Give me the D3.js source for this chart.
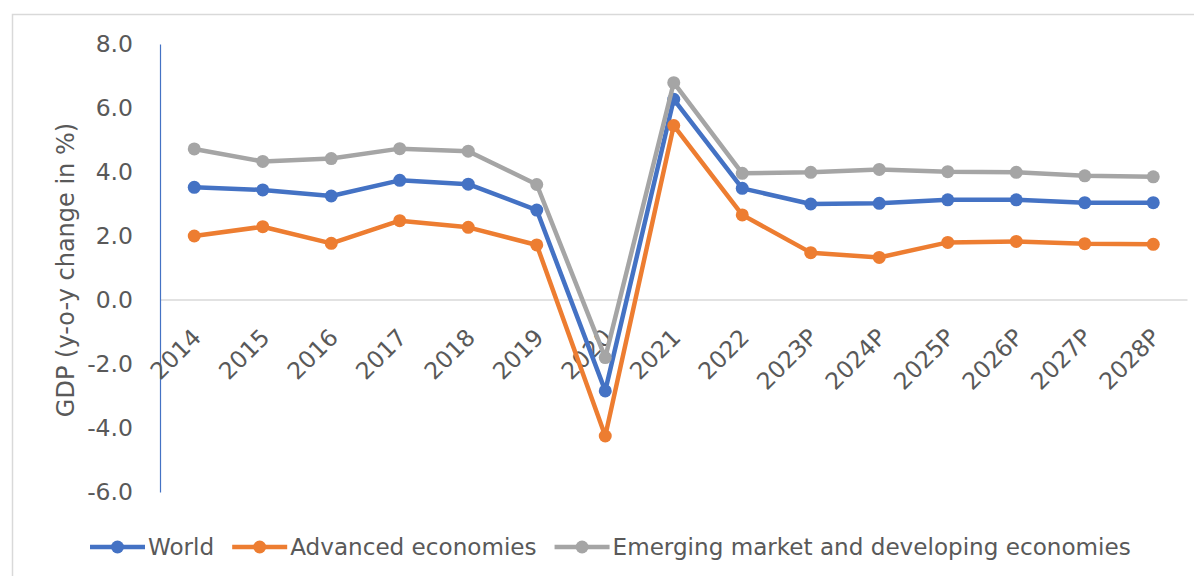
<!DOCTYPE html>
<html>
<head>
<meta charset="utf-8">
<script src="https://cdn.jsdelivr.net/npm/d3@7"></script>
<style>
  html, body { margin: 0; padding: 0; background: #fff; }
  svg { display: block; }
  text { font-family: "DejaVu Sans", sans-serif; fill: #595959; }
</style>
</head>
<body>
<svg id="chart" width="1194" height="576"></svg>
<script>
const categories = ["2014","2015","2016","2017","2018","2019","2020","2021","2022","2023P","2024P","2025P","2026P","2027P","2028P"];
const world    = [3.52, 3.44, 3.25, 3.74, 3.62, 2.81, -2.84, 6.27, 3.49, 3.00, 3.02, 3.13, 3.13, 3.04, 3.04];
const advanced = [2.00, 2.29, 1.77, 2.48, 2.27, 1.72, -4.25, 5.45, 2.66, 1.48, 1.33, 1.80, 1.83, 1.76, 1.74];
const emerging = [4.72, 4.33, 4.42, 4.73, 4.65, 3.61, -1.80, 6.79, 3.96, 3.99, 4.08, 4.01, 3.99, 3.88, 3.85];
const seriesNames = ["World", "Advanced economies", "Emerging market and developing economies"];
const seriesColors = ["#4472C4", "#ED7D31", "#A5A5A5"];
const yTicks = [-6, -4, -2, 0, 2, 4, 6, 8];
const yTitle = "GDP (y-o-y change in %)";

const series = [world, advanced, emerging].map((vals, i) => ({
  name: seriesNames[i], color: seriesColors[i],
  values: vals.map((v, j) => ({ cat: categories[j], v }))
}));

const svg = d3.select("#chart");
const pLeft = 160, pRight = 1187.5, pTop = 44, pBottom = 492;
const fs = "23.5px";

// chart border
svg.append("rect").attr("x", 12.5).attr("y", 14.5).attr("width", 1200).attr("height", 600)
  .attr("fill", "none").attr("stroke", "#d9d9d9").attr("stroke-width", 1.5);

const x = d3.scalePoint().domain(categories).range([pLeft, pRight]).padding(0.5);
const y = d3.scaleLinear().domain([-6, 8]).range([pBottom, pTop]);

// zero gridline
svg.append("line").attr("x1", pLeft).attr("x2", pRight).attr("y1", y(0)).attr("y2", y(0))
  .attr("stroke", "#d9d9d9").attr("stroke-width", 1.5);

// y axis
const yAxis = svg.append("g").attr("transform", `translate(${pLeft},0)`)
  .call(d3.axisLeft(y).tickValues(yTicks).tickFormat(d => d.toFixed(1)).tickSize(0).tickPadding(27));
yAxis.select(".domain").attr("stroke", "#4472C4").attr("stroke-width", 1.2);
yAxis.selectAll("text").style("font-size", fs).attr("fill", "#595959")
  .style("font-family", "DejaVu Sans, sans-serif");

// y axis title
svg.append("text").attr("transform", `translate(74,${(pTop + pBottom) / 2 + 2}) rotate(-90)`)
  .attr("text-anchor", "middle").style("font-size", "24px").text(yTitle);

// x axis labels
const xAxis = svg.append("g").attr("transform", `translate(0,${y(0)})`)
  .call(d3.axisBottom(x).tickSize(0).tickPadding(0));
xAxis.select(".domain").remove();
xAxis.selectAll("text")
  .style("font-size", fs).attr("fill", "#595959").style("font-family", "DejaVu Sans, sans-serif")
  .attr("text-anchor", "end").attr("dy", "0.35em").attr("y", 0)
  .attr("transform", "translate(2,33) rotate(-45)");

// lines
const line = d3.line().x(d => x(d.cat)).y(d => y(d.v));
const g = svg.append("g");
series.forEach(s => {
  g.append("path").datum(s.values).attr("d", line).attr("fill", "none")
    .attr("stroke", s.color).attr("stroke-width", 4.5).attr("stroke-linejoin", "round");
  g.selectAll(null).data(s.values).enter().append("circle")
    .attr("cx", d => x(d.cat)).attr("cy", d => y(d.v)).attr("r", 6.5).attr("fill", s.color);
});

// legend
const legY = 547;
const leg = svg.append("g");
let cx = 90;
series.forEach(s => {
  const item = leg.append("g");
  item.append("line").attr("x1", cx).attr("x2", cx + 55).attr("y1", legY).attr("y2", legY)
    .attr("stroke", s.color).attr("stroke-width", 4.5);
  item.append("circle").attr("cx", cx + 27.5).attr("cy", legY).attr("r", 6.5).attr("fill", s.color);
  const t = item.append("text").attr("x", cx + 58).attr("y", legY).attr("dy", "0.35em")
    .style("font-size", "23.1px").text(s.name);
  cx += 58 + t.node().getComputedTextLength() + 18;
});
</script>
</body>
</html>
